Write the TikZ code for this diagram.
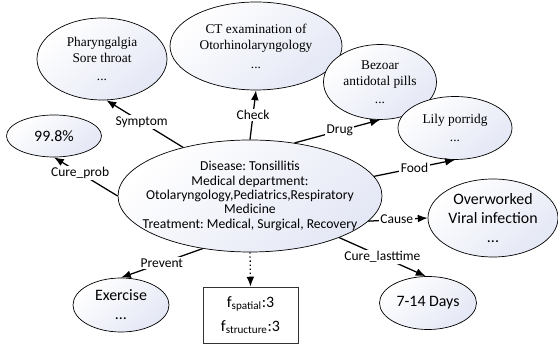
\documentclass[tikz,border=0pt]{standalone}
\usepackage{fontspec}
\setmainfont{Carlito}
\newfontfamily\serifpart{Liberation Serif}
\usetikzlibrary{shapes.geometric,arrows.meta}
\definecolor{ellfill}{RGB}{228,231,245}
\frenchspacing

\begin{document}
\begin{tikzpicture}
[font=\fontsize{9}{10.5}\selectfont, line width=0.9pt, >={Latex[length=7pt,width=5.5pt]},
ell/.style={ellipse, draw, line width=0.5pt, inner sep=-0.6cm, top color=white, bottom color=ellfill, shading angle=40, align=center},
serifell/.style={ell, font=\serifpart\fontsize{9.5}{11.5}\selectfont},
bigell/.style={ell, font=\fontsize{11.3}{13.5}\selectfont},
rel/.style={fill=white, inner sep=1pt, font=\fontsize{9.6}{10}\selectfont},
featbox/.style={rectangle, draw=black!80, line width=0.6pt, fill=white, inner sep=0pt, align=center, font=\fontsize{11.3}{17}\selectfont}]

\useasboundingbox (0,0) rectangle (13.95,8.70);

\node[ell, minimum width=6.6cm, minimum height=2.8cm, font=\fontsize{9.7}{10.2}\selectfont] (dis) at (6.25,3.80)
  {Disease: Tonsillitis\\Medical department:\\Otolaryngology,Pediatrics,Respiratory\\Medicine\\Treatment: Medical, Surgical, Recovery};

\node[serifell, minimum width=3.25cm, minimum height=2.05cm] (phar) at (2.55,7.225) {Pharyngalgia\\Sore throat\\[1pt]...};
\node[serifell, minimum width=4.30cm, minimum height=2.20cm] (ct) at (6.40,7.55) {CT examination of\\Otorhinolaryngology\\[2pt]...};
\node[serifell, minimum width=2.825cm, minimum height=1.875cm] (bez) at (9.50,6.65) {Bezoar\\antidotal pills\\[1pt]...};
\node[serifell, minimum width=2.85cm, minimum height=1.575cm] (lily) at (11.375,5.50) {Lily porridg\\[1pt]...};

\node[bigell, minimum width=2.375cm, minimum height=1.05cm] (pct) at (1.35,5.30) {99.8\%};
\node[bigell, minimum width=3.25cm, minimum height=1.95cm] (over) at (12.325,3.25) {Overworked\\Viral infection\\...};
\node[bigell, minimum width=2.425cm, minimum height=1.325cm] (days) at (10.70,1.125) {7-14 Days};
\node[bigell, minimum width=2.40cm, minimum height=1.35cm] (ex) at (3.025,1.075) {Exercise\\...};

\node[featbox, minimum width=2.375cm, minimum height=1.40cm] (feat) at (6.2625,0.825)
  {f\textsubscript{spatial}:3\\f\textsubscript{structure}:3};

\draw[->] (dis.144) -- node[rel, pos=0.54] {Symptom} (phar.276);
\draw[->] (dis.north) -- node[rel] {Check} (ct.south);
\draw[->] (dis.50) -- node[rel, pos=0.53] {Drug} (bez.south);
\draw[->] (dis.9) -- node[rel] {Food} (lily.south);
\draw[->] (dis.-12) -- node[rel, pos=0.48] {Cause} (over.west);
\draw[->] (dis.335) -- node[rel] {Cure\_lasttime} (days.95);
\draw[->] (dis.228) -- node[rel] {Prevent} (ex.north);
\draw[->] (dis.west) -- node[rel, pos=0.59] {Cure\_prob} (pct.south);
\draw[->, dotted] (dis.south) -- (feat.north);
\end{tikzpicture}
\end{document}
